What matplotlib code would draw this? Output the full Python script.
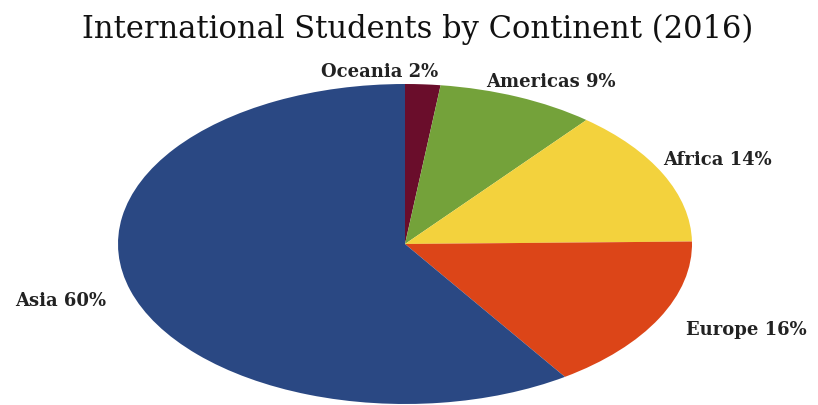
import matplotlib.pyplot as plt

continents = ['Oceania', 'Americas', 'Africa', 'Europe', 'Asia']
shares = [2, 9, 14, 16, 60]
colors = ['#6a0d2b', '#74a23a', '#f3d23d', '#dc4518', '#2a4883']

# label anchor spots in data units (pie radius = 1)
label_pos = [(-0.09, 1.08), (0.51, 1.02), (1.09, 0.53), (1.19, -0.53), (-1.20, -0.35)]

fig = plt.figure(figsize=(8.18, 4.06), dpi=100)
ax = fig.add_axes([118 / 818, 1 / 406, 574 / 818, 320 / 406])

ax.pie(shares, colors=colors, startangle=90, counterclock=False,
       wedgeprops=dict(linewidth=0))
ax.set_aspect('auto')
ax.set_xlim(-1, 1)
ax.set_ylim(-1, 1)

for name, val, (x, y) in zip(continents, shares, label_pos):
    ax.text(x, y, f'{name} {val}%', ha='center', va='center',
            family='DejaVu Serif', fontweight='bold', fontsize=13, color='#222222')

fig.text(418 / 818, 1 - 29 / 406, 'International Students by Continent (2016)',
         ha='center', va='center', family='DejaVu Serif', fontsize=22, color='#111111')

fig.savefig('out.png', dpi=100)
